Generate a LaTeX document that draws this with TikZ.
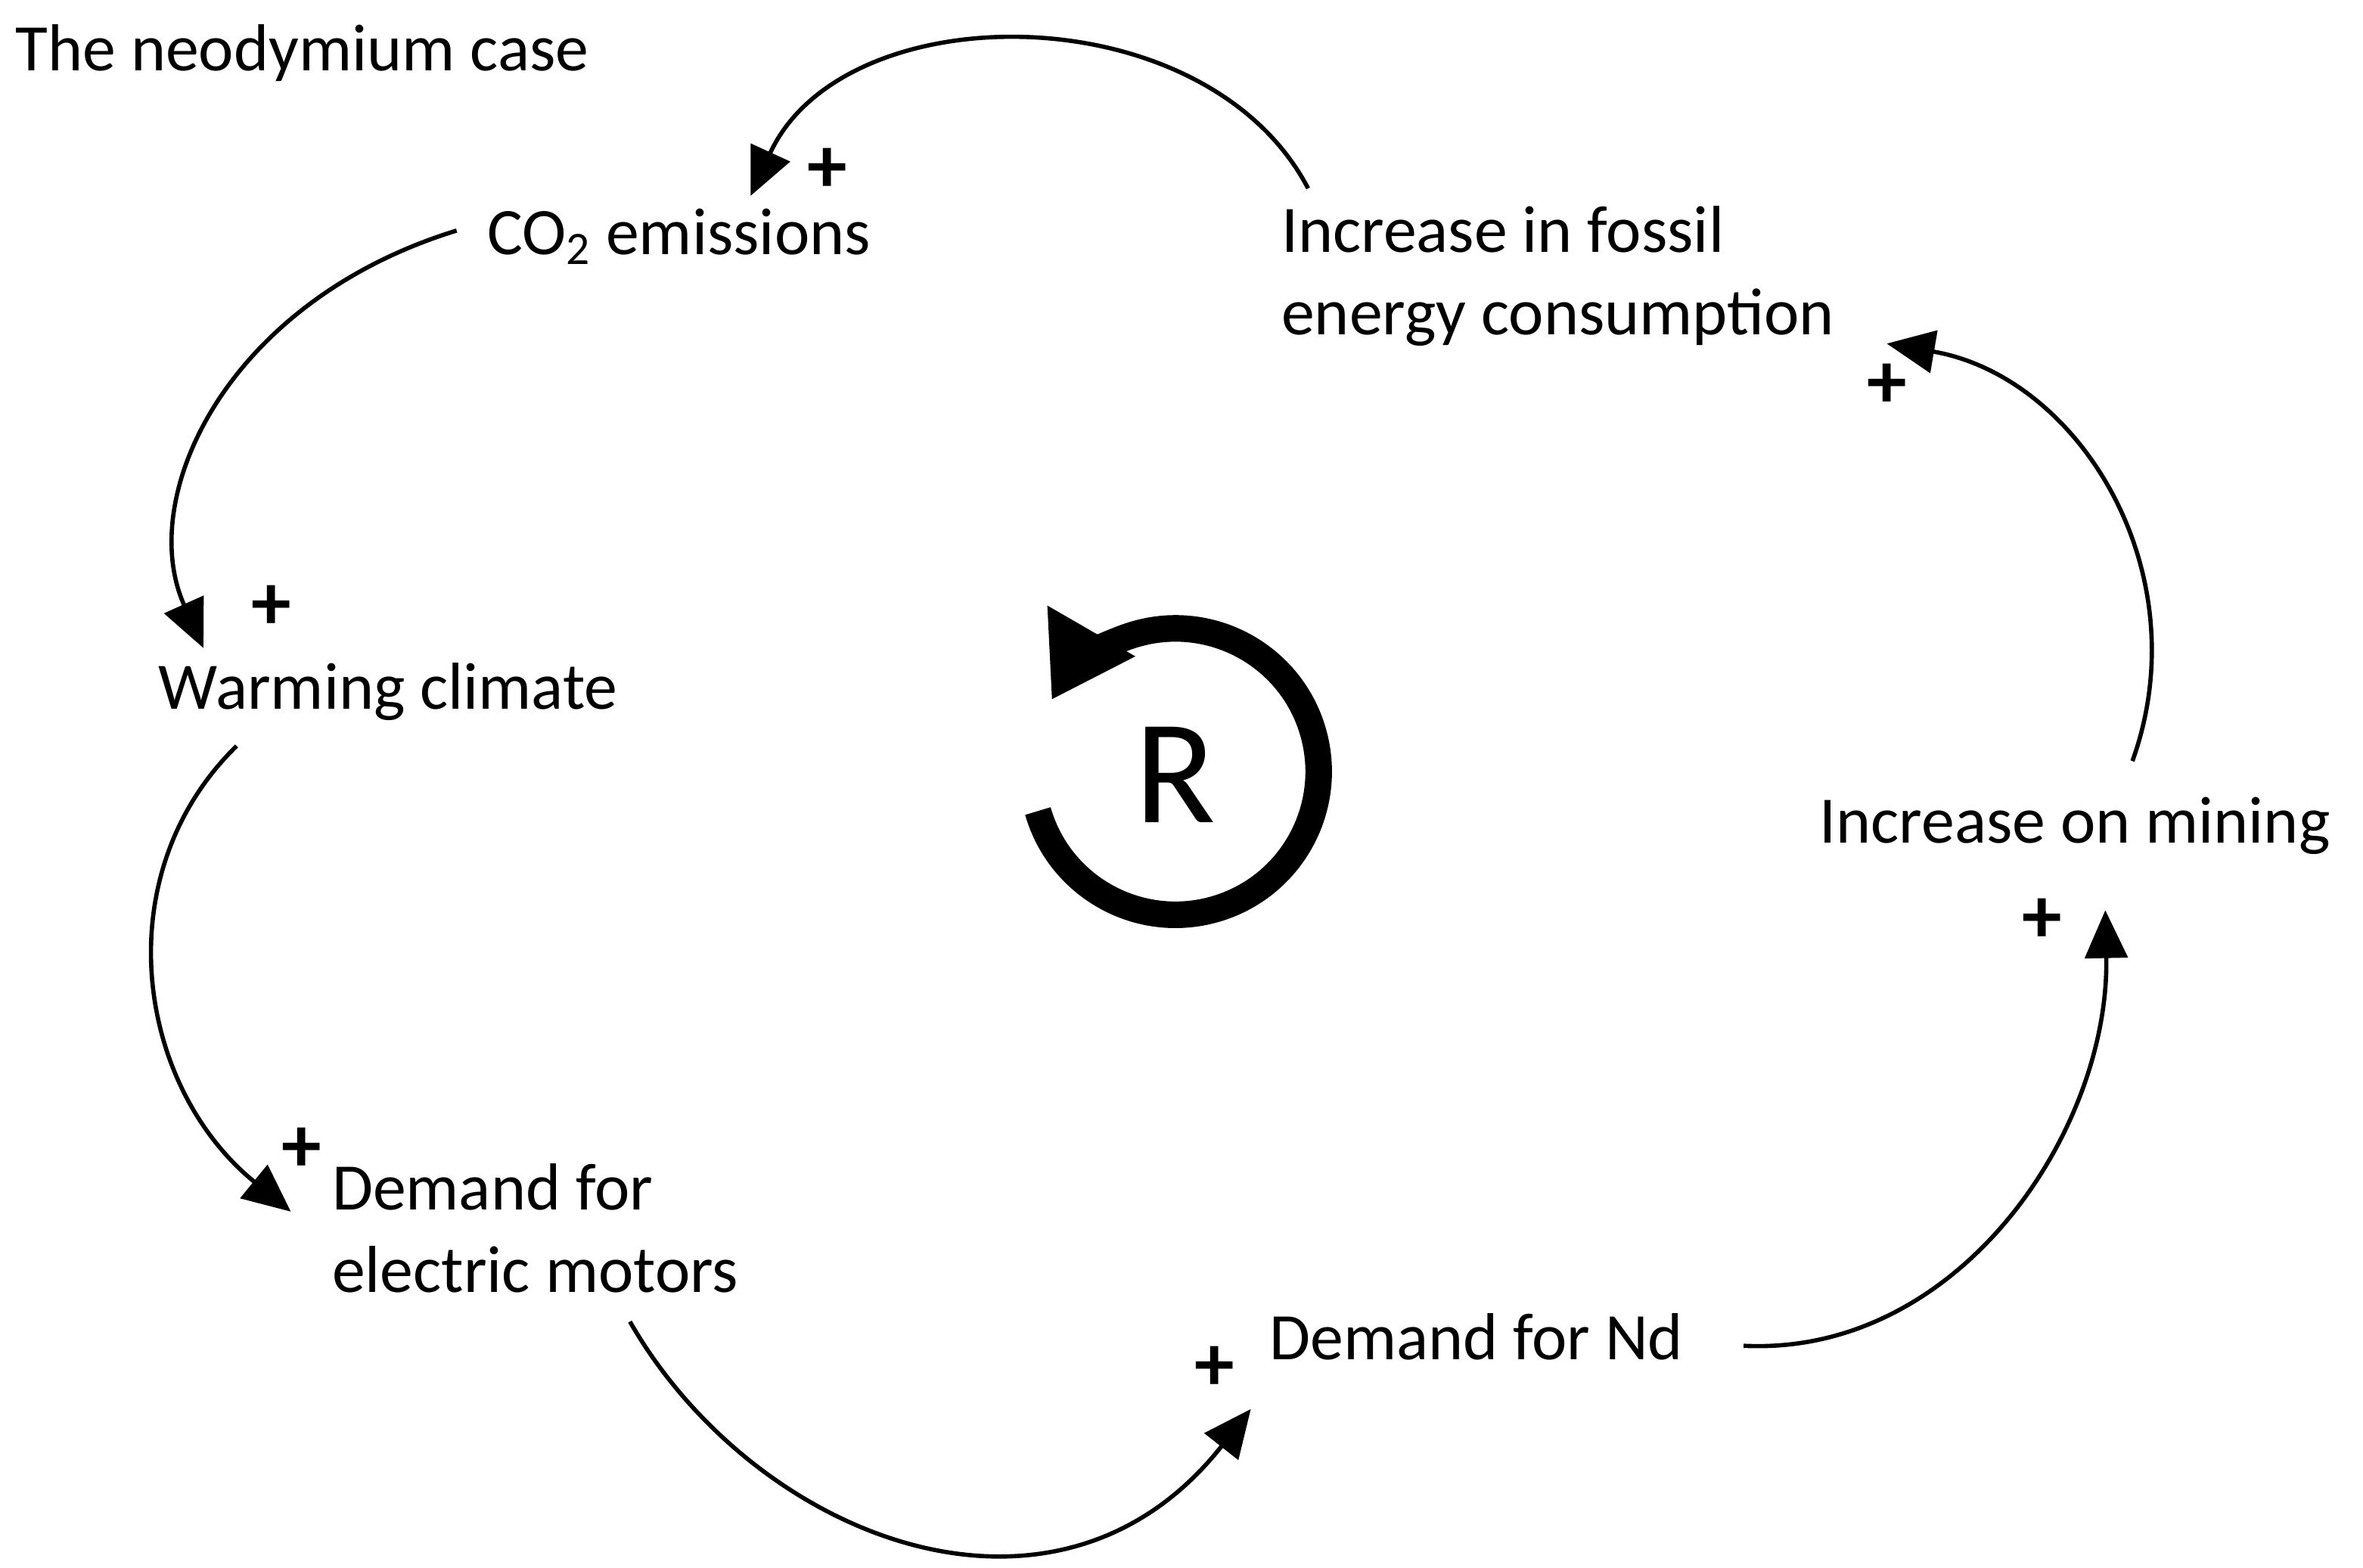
\documentclass[tikz,border=0pt]{standalone}
\usepackage{fontspec}
\setmainfont{Carlito}
\usetikzlibrary{arrows.meta}
\begin{document}
\begin{tikzpicture}[x=0.019923cm,y=-0.019923cm,
 lbl/.style={font=\fontsize{25}{31}\selectfont,inner sep=0pt},
 pl/.style={font=\fontsize{30}{30}\selectfont\bfseries,inner sep=0pt},
 con/.style={line width=1.6pt,-{Triangle[length=18pt,width=16pt]}}]
\useasboundingbox (0,0) rectangle (1568,1040);
\node[lbl,anchor=west] (t) at (10,35) {The neodymium case};
\node[lbl,anchor=west] (co2) at (323,157) {CO\textsubscript{2} emissions};
\node[lbl,anchor=west,align=left] (fos) at (850,183) {Increase in fossil\\energy consumption};
\node[lbl,anchor=west] (warm) at (105,459) {Warming climate};
\node[lbl,anchor=west] (mine) at (1207,548) {Increase on mining};
\node[lbl,anchor=west,align=left] (mot) at (220,815) {Demand for\\electric motors};
\node[lbl,anchor=west] (nd) at (842,887) {Demand for Nd};
\coordinate (a1) at (868,125); \coordinate (b1) at (498,130);
\coordinate (a2) at (303,153); \coordinate (b2) at (135,430);
\coordinate (a3) at (157,495); \coordinate (b3) at (193,804);
\coordinate (a4) at (418,877); \coordinate (b4) at (830,935);
\coordinate (a5) at (1157,893); \coordinate (b5) at (1397,604);
\coordinate (a6) at (1415,505); \coordinate (b6) at (1252,228);
\draw[con] (a1) .. controls (800,-5) and (560,-5) .. (b1);
\draw[con] (a2) .. controls (150,200) and (90,330) .. (b2);
\draw[con] (a3) .. controls (70,580) and (90,720) .. (b3);
\draw[con] (a4) .. controls (500,1020) and (700,1100) .. (b4);
\draw[con] (a5) .. controls (1300,900) and (1400,750) .. (b5);
\draw[con] (a6) .. controls (1460,380) and (1380,250) .. (b6);
\node[pl] (p1) at (549,113) {+};
\node[pl] (p2) at (180,403) {+};
\node[pl] (p3) at (200,763) {+};
\node[pl] (p4) at (806,908) {+};
\node[pl] (p5) at (1355,611) {+};
\node[pl] (p6) at (1252,256) {+};
\node[font=\fontsize{56}{56}\selectfont,inner sep=0pt] (R) at (780,514) {R};
\draw[line width=10pt,-{Triangle[length=30pt,width=36pt]}] (780,512) ++(164:95) arc[start angle=164,end angle=-150,radius=95];
\end{tikzpicture}
\end{document}
